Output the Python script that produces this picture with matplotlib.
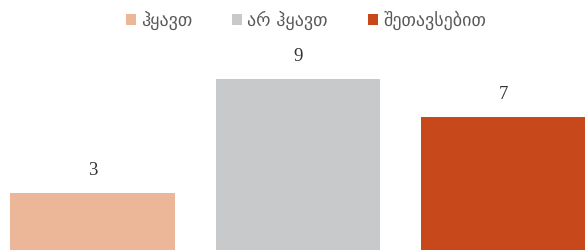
import matplotlib
matplotlib.use("Agg")
import matplotlib.pyplot as plt
from matplotlib.patches import Patch

categories = ["ჰყავთ", "არ ჰყავთ", "შეთავსებით"]
values = [3, 9, 7]
colors = ["#ECB798", "#C8C9CB", "#C7481A"]

W, H = 587, 250
fig = plt.figure(figsize=(W / 100, H / 100), dpi=100)
ax = fig.add_axes([0, 0, 1, 1])

x = list(range(len(values)))
bars = ax.bar(x, values, width=0.8, color=colors)

# pixel mapping: center0 at 92.5 px, center2 at 503 px
ppu = (503 - 92.5) / 2
ax.set_xlim(-92.5 / ppu, (W - 92.5) / ppu)
scale = 19.0
ax.set_ylim(0, H / scale)
ax.axis("off")

for xi, v in zip(x, values):
    ax.annotate(str(v), (xi, v), xytext=(0, 10), textcoords="offset points",
                ha="center", va="bottom", fontsize=13.5,
                family="Liberation Serif", color="#333333")

handles = [Patch(facecolor=c, edgecolor="none") for c in colors]
leg = fig.legend(handles, categories, loc="upper center", ncol=3,
                 bbox_to_anchor=(0.521, 1.0), frameon=False,
                 handlelength=0.55, handleheight=0.55, handletextpad=0.3,
                 columnspacing=2.2, fontsize=13, borderaxespad=0.2)
for t in leg.get_texts():
    t.set_color("#595959")

fig.savefig("out.png", dpi=100)
